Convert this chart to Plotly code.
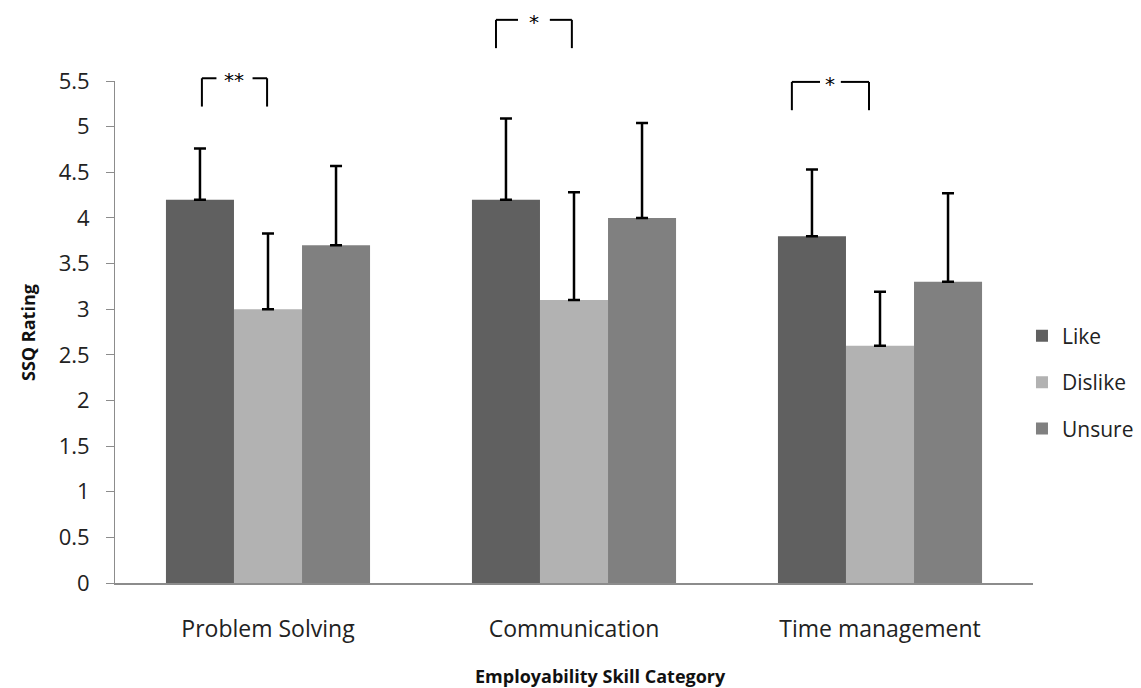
import plotly.graph_objects as go

categories = ["Problem Solving", "Communication", "Time management"]
like = [4.2, 4.2, 3.8]
like_err = [0.56, 0.89, 0.73]
dislike = [3.0, 3.1, 2.6]
dislike_err = [0.83, 1.18, 0.59]
unsure = [3.7, 4.0, 3.3]
unsure_err = [0.87, 1.04, 0.97]
y_ticks = [0, 0.5, 1, 1.5, 2, 2.5, 3, 3.5, 4, 4.5, 5, 5.5]
y_tick_text = ["0", "0.5", "1", "1.5", "2", "2.5", "3", "3.5", "4", "4.5", "5", "5.5"]

# significance brackets
sig_cat = [0, 1, 2]
sig_label = ["**", "*", "*"]
sig_top = [5.53, 6.17, 5.49]          # bracket top (SSQ rating units)
sig_drop = 0.31                       # leg length (rating units)

# bracket styling (category-unit offsets of legs, half gap around the label)
bracket_left = [-0.216, -0.255, -0.288]
bracket_right = [-0.003, -0.007, -0.036]
bracket_gap = [0.059, 0.052, 0.034]

FONT = "'Open Sans', sans-serif"
YMAX = 5.5

fig = go.Figure()
series = [("Like", like, like_err, "#606060"),
          ("Dislike", dislike, dislike_err, "#b2b2b2"),
          ("Unsure", unsure, unsure_err, "#808080")]
for name, vals, errs, col in series:
    fig.add_trace(go.Bar(
        name=name, x=categories, y=vals, marker_color=col,
        marker_line_width=0, legendgroup=name,
        error_y=dict(type="data", array=errs, symmetric=False, arrayminus=[0] * len(errs),
                     color="black", thickness=2.5, width=6),
    ))

shapes = []
annotations = []
for ci, lab, top, lo, ro, g in zip(sig_cat, sig_label, sig_top, bracket_left, bracket_right, bracket_gap):
    x0 = ci + lo
    x1 = ci + ro
    xm = (x0 + x1) / 2
    ytop = top / YMAX
    ybot = (top - sig_drop) / YMAX
    line = dict(color="black", width=2)
    shapes.append(dict(type="line", xref="x", yref="paper", x0=x0, x1=x0, y0=ybot, y1=ytop, line=line))
    shapes.append(dict(type="line", xref="x", yref="paper", x0=x1, x1=x1, y0=ybot, y1=ytop, line=line))
    shapes.append(dict(type="line", xref="x", yref="paper", x0=x0, x1=xm - g, y0=ytop, y1=ytop, line=line))
    shapes.append(dict(type="line", xref="x", yref="paper", x0=xm + g, x1=x1, y0=ytop, y1=ytop, line=line))
    annotations.append(dict(x=xm, y=ytop, xref="x", yref="paper", text=lab, showarrow=False,
                            font=dict(family="DejaVu Sans", size=20, color="black"),
                            yanchor="middle", yshift=-2))

# axis titles
annotations.append(dict(x=0.529, y=-0.157, xref="paper", yref="paper", xanchor="center", yanchor="top",
                        text="<b>Employability Skill Category</b>", showarrow=False,
                        font=dict(family=FONT, size=18, color="#111111")))
annotations.append(dict(x=-0.0948, y=0.5, xref="paper", yref="paper", xanchor="center", yanchor="middle",
                        text="<b>SSQ Rating</b>", textangle=-90, showarrow=False,
                        font=dict(family=FONT, size=18, color="#111111")))

fig.update_layout(
    width=1141, height=688,
    margin=dict(l=115, r=108, t=81, b=105, autoexpand=False),
    paper_bgcolor="white", plot_bgcolor="white",
    barmode="group", bargap=0.333, bargroupgap=0,
    font=dict(family=FONT, size=22, color="#222222"),
    shapes=shapes, annotations=annotations,
    showlegend=True,
    legend=dict(x=0.988, xanchor="left", y=0.40, yanchor="middle",
                font=dict(family=FONT, size=21, color="#222222"),
                itemwidth=30, tracegroupgap=16, bgcolor="rgba(0,0,0,0)"),
    xaxis=dict(showline=True, linecolor="#8c8c8c", linewidth=2, ticks="",
               ticklabelstandoff=24, tickfont=dict(size=23), showgrid=False),
    yaxis=dict(range=[0, YMAX], tickvals=y_ticks, ticktext=y_tick_text, showline=True,
               linecolor="#8c8c8c", linewidth=1, ticks="outside", ticklen=8, tickcolor="#8c8c8c",
               ticklabelstandoff=12, showgrid=False, zeroline=False, tickfont=dict(size=22)),
)

fig.write_html("out.html", config={"displayModeBar": False},
               post_script="document.body.style.margin='0';")
